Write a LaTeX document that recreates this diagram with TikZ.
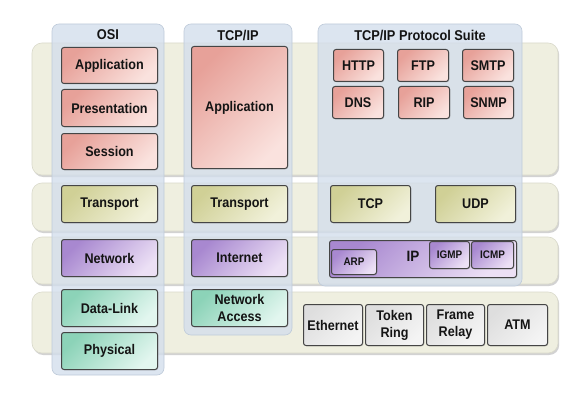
\documentclass[tikz,border=0pt]{standalone}
\usepackage{fontspec}
\setmainfont{Liberation Sans}[FakeStretch=0.9]
\usetikzlibrary{shadows}
\definecolor{bandc}{HTML}{EFEFE0}
\definecolor{bandedge}{HTML}{DADACB}
\definecolor{colc}{HTML}{D3DEEC}
\definecolor{coledge}{HTML}{BFCBDA}
\definecolor{boxedge}{HTML}{454545}
\definecolor{redA}{HTML}{E7A199}
\definecolor{redB}{HTML}{FAE2DE}
\definecolor{yelA}{HTML}{D0D096}
\definecolor{yelB}{HTML}{F1F1DA}
\definecolor{purA}{HTML}{A888D0}
\definecolor{purB}{HTML}{ECE0F5}
\definecolor{grnA}{HTML}{8CD3B8}
\definecolor{grnB}{HTML}{E2F6EF}
\definecolor{gryA}{HTML}{DEDEDE}
\definecolor{gryB}{HTML}{F4F4F4}
\definecolor{txt}{HTML}{141414}
\begin{document}
\begin{tikzpicture}[x=1pt,y=1pt,
  font=\bfseries\fontsize{14}{17}\selectfont, text=txt,
  band/.style={fill=bandc, draw=bandedge, line width=0.6pt, rounded corners=10pt,
    drop shadow={shadow xshift=1.2pt, shadow yshift=-2pt, opacity=0.35, fill=gray}},
  col/.style={fill=colc, fill opacity=0.78, draw=coledge, line width=0.6pt, rounded corners=7pt},
  box/.style={draw=boxedge, line width=1pt, rounded corners=2.5pt, inner sep=0pt,
    anchor=north west, align=center,
    drop shadow={shadow xshift=0.8pt, shadow yshift=-0.8pt, opacity=0.3}},
  redbox/.style={box, top color=redA, bottom color=redB, shading angle=45},
  yelbox/.style={box, top color=yelA, bottom color=yelB, shading angle=45},
  purbox/.style={box, top color=purA, bottom color=purB, shading angle=45},
  grnbox/.style={box, top color=grnA, bottom color=grnB, shading angle=45},
  grybox/.style={box, top color=gryA, bottom color=gryB, shading angle=45},
  title/.style={font=\bfseries\fontsize{14.2}{16}\selectfont},
  small/.style={font=\bfseries\fontsize{11}{12}\selectfont}
]
\useasboundingbox (0,0) rectangle (588,-401);
\fill[white] (0,0) rectangle (588,-401);
% bands
\draw[band] (32,-43) rectangle (558,-175);
\draw[band] (32,-183) rectangle (558,-231);
\draw[band] (32,-237) rectangle (558,-284);
\draw[band] (32,-292) rectangle (558,-353);
% columns
\draw[col] (52,-24) rectangle (164,-375);
\draw[col] (184,-24) rectangle (292,-335);
\draw[col] (318,-24) rectangle (522,-286);
% titles
\node[title] (tosi) at (108,-35) {OSI};
\node[title] (ttcp) at (238,-35) {TCP/IP};
\node[title] (tsuite) at (420,-35) {TCP/IP Protocol Suite};
% OSI
\node[redbox, minimum width=96, minimum height=36] (oapp) at (61,-47) {Application};
\node[redbox, minimum width=96, minimum height=37] (opre) at (61,-89) {Presentation};
\node[redbox, minimum width=96, minimum height=36] (oses) at (61,-133) {Session};
\node[yelbox, minimum width=96, minimum height=37] (otra) at (61,-185) {Transport};
\node[purbox, minimum width=96, minimum height=37] (onet) at (61,-239) {Network};
\node[grnbox, minimum width=96, minimum height=37] (odl) at (61,-289) {Data-Link};
\node[grnbox, minimum width=96, minimum height=37] (ophy) at (61,-332) {Physical};
% TCP/IP
\node[redbox, minimum width=96, minimum height=122] (tapp) at (191,-46) {Application};
\node[yelbox, minimum width=96, minimum height=37] (ttra) at (191,-185) {Transport};
\node[purbox, minimum width=96, minimum height=37] (tint) at (191,-239) {Internet};
\node[grnbox, minimum width=96, minimum height=37] (tna) at (191,-289) {Network\\Access};
% Suite
\node[redbox, minimum width=50, minimum height=32] (http) at (333,-49) {HTTP};
\node[redbox, minimum width=51, minimum height=32] (ftp) at (397,-49) {FTP};
\node[redbox, minimum width=51, minimum height=32] (smtp) at (462,-49) {SMTP};
\node[redbox, minimum width=51, minimum height=32] (dns) at (332,-86) {DNS};
\node[redbox, minimum width=51, minimum height=32] (rip) at (398,-86) {RIP};
\node[redbox, minimum width=50, minimum height=32] (snmp) at (463,-86) {SNMP};
\node[yelbox, minimum width=80, minimum height=37] (tcp) at (330,-185) {TCP};
\node[yelbox, minimum width=80, minimum height=37] (udp) at (435,-185) {UDP};
\node[purbox, minimum width=187, minimum height=37] (ip) at (329,-240) {};
\node (iplbl) at (413,-256) {\fontsize{15}{16}\selectfont IP};
\node[purbox, small, minimum width=45, minimum height=25] (arp) at (331,-249) {ARP};
\node[purbox, small, minimum width=40, minimum height=27] (igmp) at (429,-241) {IGMP};
\node[purbox, small, minimum width=42, minimum height=27] (icmp) at (471,-241) {ICMP};
\node[grybox, minimum width=59, minimum height=41] (eth) at (303,-304) {Ethernet};
\node[grybox, minimum width=58, minimum height=41] (tok) at (365,-304) {Token\\Ring};
\node[grybox, minimum width=58, minimum height=41] (fr) at (426,-304) {Frame\\Relay};
\node[grybox, minimum width=60, minimum height=41] (atm) at (487,-304) {ATM};
\end{tikzpicture}
\end{document}
